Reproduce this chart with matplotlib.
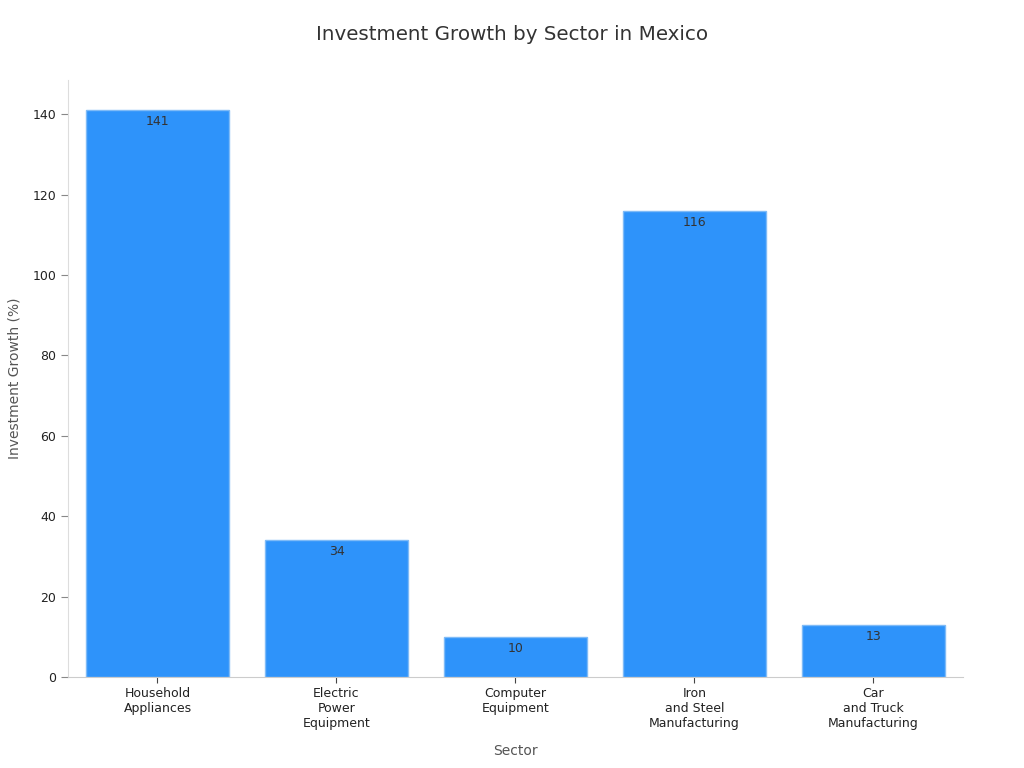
import matplotlib.pyplot as plt

# data
sectors = ['Household\nAppliances', 'Electric\nPower\nEquipment', 'Computer\nEquipment',
           'Iron\nand Steel\nManufacturing', 'Car\nand Truck\nManufacturing']
growth = [141, 34, 10, 116, 13]

fig = plt.figure(figsize=(10.24, 7.68), dpi=100)
ax = fig.add_axes([0.0664, 0.1185, 0.874, 0.7773])

x = range(len(sectors))
bars = ax.bar(x, growth, width=0.8, color='#2E93FA', edgecolor='#7FBBF7', linewidth=1)

# value labels just below the top of each bar
for b, v in zip(bars, growth):
    ax.annotate(str(v), (b.get_x() + b.get_width() / 2, v), xytext=(0, -3.5),
                textcoords='offset points', ha='center', va='top',
                fontsize=9, color='#333333')

ax.set_xlim(-0.5, 4.5)
ax.set_ylim(0, 148.5)
ax.set_xticks(list(x))
ax.set_xticklabels(sectors, fontsize=9, color='#222222')
ax.set_yticks(range(0, 141, 20))
ax.tick_params(axis='y', labelsize=9, labelcolor='#222222', color='#888888', length=5)
ax.tick_params(axis='x', color='#444444', length=4)

for s in ['top', 'right']:
    ax.spines[s].set_visible(False)
ax.spines['left'].set_color('#dddddd')
ax.spines['bottom'].set_color('#cccccc')

ax.set_xlabel('Sector', fontsize=10, color='#555555', labelpad=10)
ax.set_ylabel('Investment Growth (%)', fontsize=10, color='#555555', labelpad=8)
fig.suptitle('Investment Growth by Sector in Mexico', fontsize=14.3, color='#333333', y=0.967)

plt.savefig('out.png', dpi=100)
